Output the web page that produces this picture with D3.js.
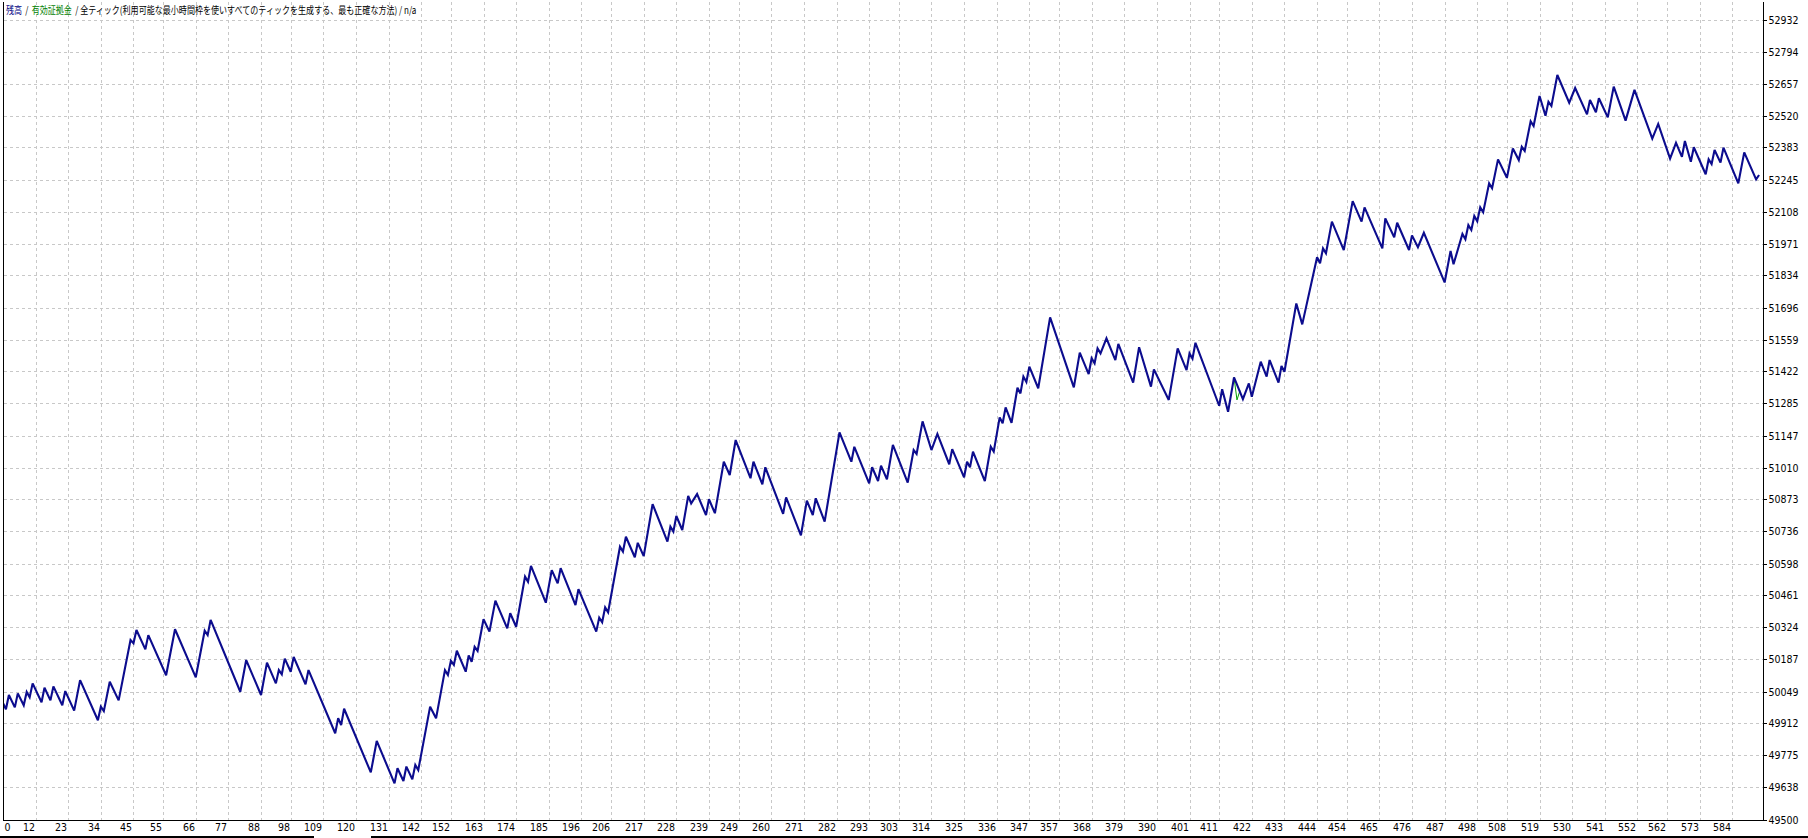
<!DOCTYPE html>
<html><head><meta charset="utf-8">
<script src="https://cdn.jsdelivr.net/npm/d3@7"></script>
<style>html,body{margin:0;padding:0;background:#fff;overflow:hidden}svg{display:block}</style>
</head><body>
<svg id="c" width="1808" height="838"></svg>
<script>
// ---- data ----
const tradeNo = [1,2,3,5,6,8,9,10,11,14,15,17,18,21,22,25,27,33,34,35,37,40,44,45,46,49,50,56,59,66,69,70,71,81,83,88,90,93,94,95,96,98,99,103,104,113,114,115,116,
125,127,133,134,136,137,139,140,141,145,147,150,151,152,153,154,157,158,159,160,161,163,165,167,171,172,174,177,178,179,184,186,188,189,194,195,201,202,203,204,205,209,210,211,214,215,217,220,225,226,227,228,230,232,233,235,238,239,241,244,
246,248,253,254,257,258,264,265,270,272,274,275,278,283,287,288,293,294,296,297,299,301,306,308,309,311,314,316,320,321,325,326,327,328,332,334,335,337,338,339,341,343,344,345,346,347,350,354,362,364,
367,368,369,370,371,373,376,377,382,384,388,389,394,397,400,401,402,403,411,412,414,416,419,421,422,425,427,428,431,432,433,437,439,444,445,446,447,449,453,456,459,460,466,467,470,471,475,476,478,480,487,
489,490,493,494,495,496,497,498,499,500,502,503,505,508,510,512,513,514,516,517,519,521,522,523,525,529,531,535,536,538,539,542,544,548,551,557,559,563,565,567,568,570,571,575,576,577,578,580,581,586,588,592,593];
const balance = [50000,49973,50034,49981,50041,49990,50047,50024,50084,50003,50065,50011,50071,49990,50051,49967,50098,49926,49984,49965,50091,50011,50270,50256,50313,50230,50291,50119,50316,50110,50310,50291,50356,50048,50184,50034,50173,50084,50141,50123,50190,50134,50197,50080,50141,49870,49935,49905,49975,
49702,49837,49655,49720,49665,49727,49672,49734,49712,49984,49934,50141,50120,50181,50163,50224,50134,50204,50177,50241,50223,50359,50306,50439,50320,50385,50327,50542,50520,50588,50430,50570,50513,50578,50420,50488,50306,50366,50346,50410,50389,50670,50649,50713,50625,50687,50630,50853,50692,50756,50735,50802,50742,50888,50856,50896,50806,50874,50814,51035,
50978,51128,50964,51035,50938,51011,50811,50882,50719,50868,50806,50878,50778,51161,51035,51099,50942,51011,50952,51018,50959,51107,50945,51085,51068,51208,51085,51154,51024,51089,50968,51035,51011,51078,50952,51099,51078,51225,51200,51268,51202,51352,51328,51400,51377,51443,51350,51654,51354,51503,
51411,51479,51457,51521,51500,51564,51471,51540,51374,51526,51357,51431,51300,51521,51428,51500,51477,51545,51275,51346,51249,51397,51303,51371,51314,51464,51400,51471,51374,51446,51421,51714,51624,51912,51886,51950,51929,52065,51943,52153,52065,52126,51950,52079,51998,52060,51943,52006,51955,52017,51804,
51939,51882,52012,51989,52050,52029,52089,52066,52126,52105,52229,52208,52332,52253,52379,52329,52386,52368,52495,52475,52604,52519,52579,52561,52694,52575,52638,52525,52587,52534,52594,52512,52644,52498,52630,52421,52484,52335,52403,52343,52411,52322,52384,52268,52332,52312,52372,52318,52382,52229,52362,52246,52265];
const equityTradeNo = [416, 417, 418];
const equity = [51397, 51300, 51340];
const xTickLabels = [0,12,23,34,45,55,66,77,88,98,109,120,131,142,152,163,174,185,196,206,217,228,239,249,260,271,282,293,303,314,325,336,347,357,368,379,390,401,411,422,433,444,454,465,476,487,498,508,519,530,541,552,562,573,584];
const yTickLabels = [49500,49638,49775,49912,50049,50187,50324,50461,50598,50736,50873,51010,51147,51285,51422,51559,51696,51834,51971,52108,52245,52383,52520,52657,52794,52932];
const titleParts = [
  {t:"残高", c:"#00007f"},
  {t:"/", c:"#000"},
  {t:"有効証拠金", c:"#008000"},
  {t:"/ 全ティック(利用可能な最小時間枠を使いすべてのティックを生成する、最も正確な方法) / n/a", c:"#000"}
];

// ---- layout ----
const W = 1808, H = 838;
const L = 3.5, R = 1763.5, T = 2, B = 820.5;
const svg = d3.select("#c");
svg.append("rect").attr("width", W).attr("height", H).attr("fill", "#fff");

const x = d3.scaleLinear().domain([0, 595]).range([0, 1765]);
const y = d3.scaleLinear().domain([49500, 52932]).range([819.5, 19.5]);
const px = v => Math.round(v) + 0.5;

// grid
const grid = svg.append("g").attr("stroke", "#c8c8c8").attr("stroke-width", 1).attr("stroke-dasharray", "3,3").attr("shape-rendering", "crispEdges");
grid.selectAll("line.h").data(yTickLabels.slice(1)).enter().append("line")
  .attr("x1", L).attr("x2", R).attr("y1", d => px(y(d))).attr("y2", d => px(y(d)));
grid.selectAll("line.v").data(xTickLabels.slice(1)).enter().append("line")
  .attr("y1", T).attr("y2", B).attr("x1", d => px(x(d))).attr("x2", d => px(x(d)));

// clip
svg.append("clipPath").attr("id", "clip").append("rect").attr("x", L).attr("y", T).attr("width", R - L).attr("height", B - T);

// equity line
const eqLine = d3.line().x(d => x(d[0])).y(d => y(d[1]));
svg.append("path").attr("clip-path", "url(#clip)")
  .attr("d", eqLine(equityTradeNo.map((t, i) => [t, equity[i]])))
  .attr("fill", "none").attr("stroke", "#00a000").attr("stroke-width", 1);

// balance line
const balLine = d3.line().x(d => x(d[0])).y(d => y(d[1]));
svg.append("path").attr("clip-path", "url(#clip)")
  .attr("d", balLine(tradeNo.map((t, i) => [t, balance[i]])))
  .attr("fill", "none").attr("stroke", "#0c0c8e").attr("stroke-width", 2.1).attr("stroke-linejoin", "miter").attr("stroke-miterlimit", 3);

// frame
const frame = svg.append("g").attr("stroke", "#000").attr("stroke-width", 1).attr("shape-rendering", "crispEdges");
frame.append("line").attr("x1", L).attr("x2", L).attr("y1", T).attr("y2", B);
frame.append("line").attr("x1", R).attr("x2", R).attr("y1", T).attr("y2", B);
frame.append("line").attr("x1", L).attr("x2", R + 3).attr("y1", B).attr("y2", B);
frame.selectAll("line.t").data(yTickLabels).enter().append("line")
  .attr("x1", R).attr("x2", R + 3).attr("y1", d => px(y(d))).attr("y2", d => px(y(d)));

// bottom strip line
svg.append("line").attr("x1", 0).attr("x2", 314).attr("y1", 837).attr("y2", 837).attr("stroke", "#000").attr("stroke-width", 2);
svg.append("line").attr("x1", 371).attr("x2", W).attr("y1", 837).attr("y2", 837).attr("stroke", "#000").attr("stroke-width", 2);

const font = "'Liberation Sans Narrow','Arial Narrow','DejaVu Sans Condensed',sans-serif";
// y labels
svg.append("g").selectAll("text").data(yTickLabels).enter().append("text")
  .attr("x", R + 5).attr("y", d => y(d) + 4)
  .attr("font-family", font).attr("font-size", 10.5).attr("fill", "#000")
  .text(d => d);
// x labels
svg.append("g").selectAll("text").data(xTickLabels).enter().append("text")
  .attr("x", (d, i) => i === 0 ? L + 1 : px(x(d)) - 1.5)
  .attr("y", 831)
  .attr("text-anchor", (d, i) => i === 0 ? "start" : "end")
  .attr("font-family", font).attr("font-size", 10.5).attr("fill", "#000")
  .text(d => d);

// title: separate pieces laid out at natural width, then the group is squeezed horizontally
const titleG = svg.append("g").attr("font-family", "'Noto Sans CJK JP', sans-serif").attr("font-size", 10);
const pieces = titleParts.map(p => titleG.append("text").attr("y", 14).attr("fill", p.c).text(p.t));
const gap = 4;
let cx = 0;
pieces.forEach(s => {
  s.attr("x", cx);
  cx += s.node().getComputedTextLength() + gap;
});
const totalW = cx - gap;
titleG.attr("transform", `translate(6,0) scale(${411 / totalW},1)`);
</script>
</body></html>
